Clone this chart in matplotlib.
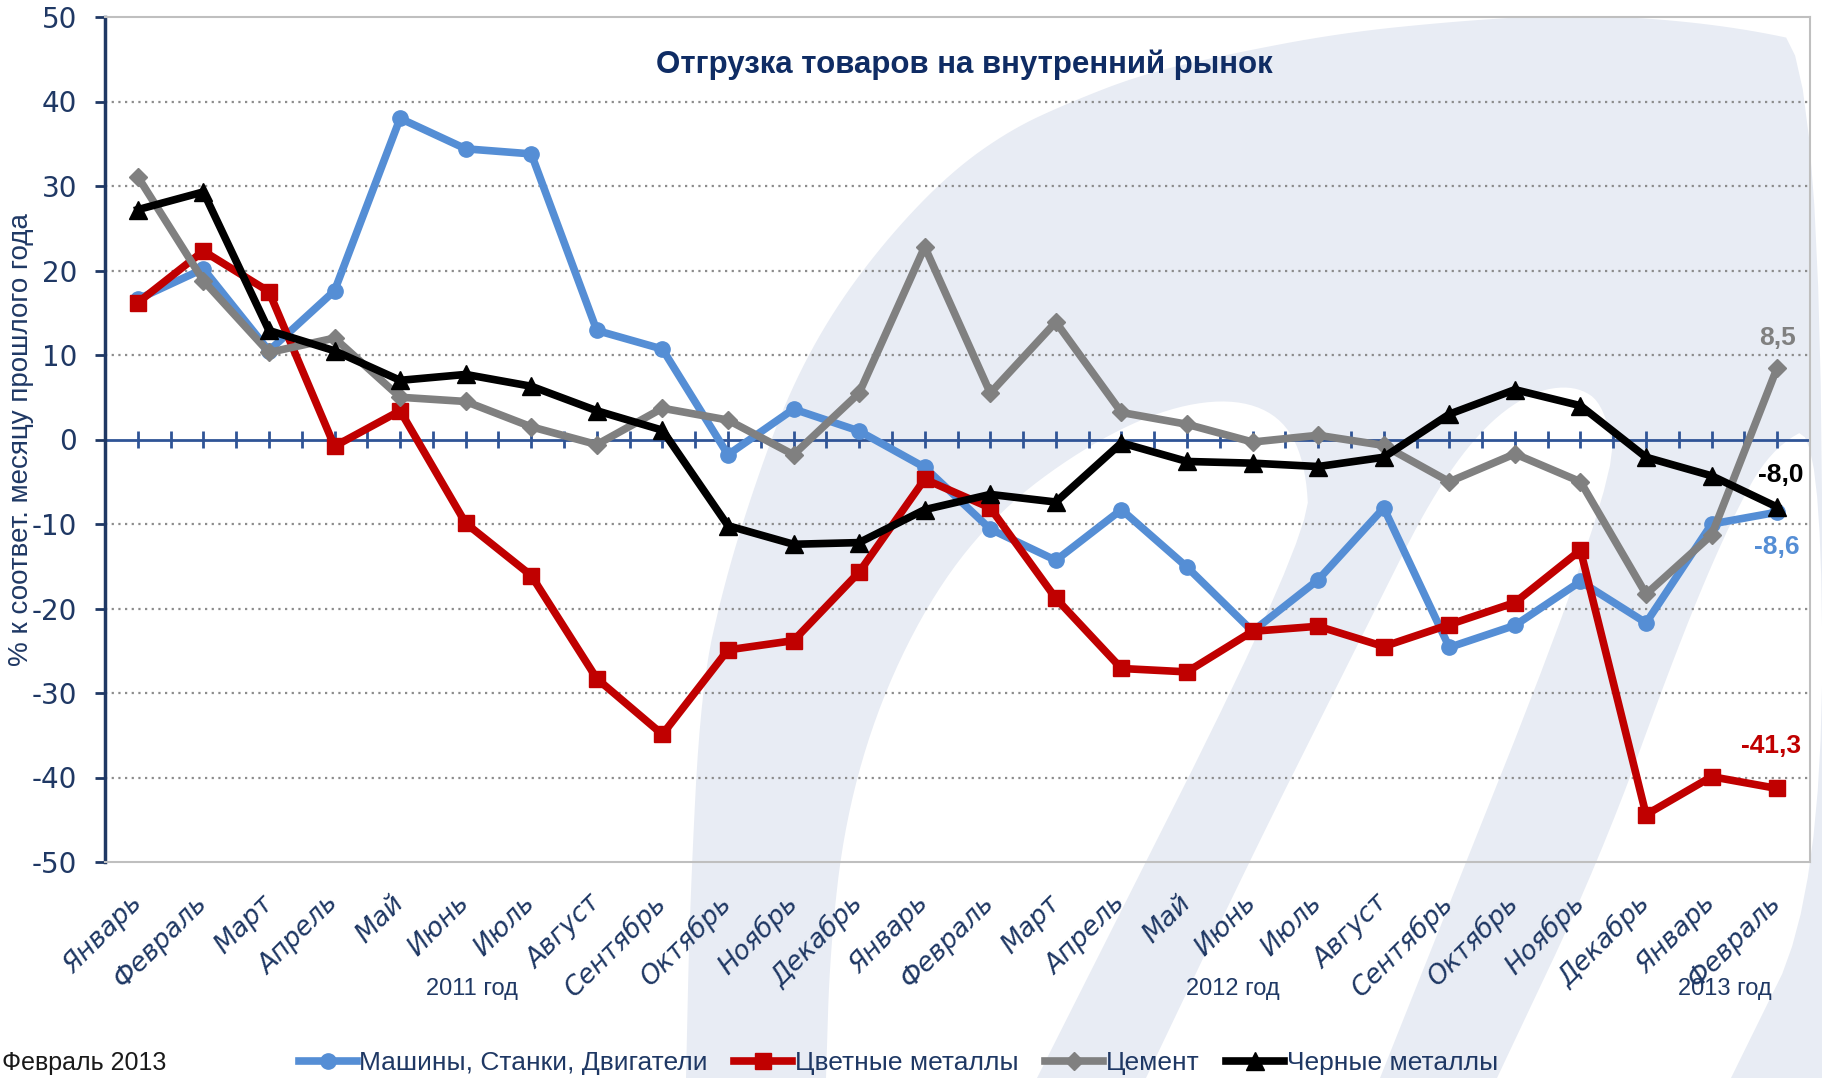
import matplotlib.pyplot as plt
import matplotlib.transforms as mtransforms
import numpy as np

months = ['Январь', 'Февраль', 'Март', 'Апрель', 'Май', 'Июнь', 'Июль',
          'Август', 'Сентябрь', 'Октябрь', 'Ноябрь', 'Декабрь']
labels = months + months + months[:2]

machines = [16.6, 20.2, 10.5, 17.6, 38.0, 34.4, 33.8, 12.9, 10.7, -1.8, 3.6, 1.0,
            -3.3, -10.6, -14.3, -8.3, -15.1, -22.7, -16.6, -8.1, -24.6, -22.0, -16.8, -21.7,
            -10.0, -8.6]
nonferrous = [16.2, 22.3, 17.5, -0.8, 3.4, -9.9, -16.1, -28.3, -34.9, -24.9, -23.8, -15.7,
              -4.7, -8.1, -18.8, -27.1, -27.5, -22.7, -22.1, -24.5, -21.9, -19.3, -13.1, -44.4,
              -39.9, -41.3]
cement = [31.1, 18.8, 10.3, 12.0, 5.0, 4.5, 1.5, -0.6, 3.7, 2.3, -1.8, 5.5,
          22.8, 5.5, 13.9, 3.2, 1.8, -0.3, 0.5, -0.7, -5.0, -1.7, -5.0, -18.3,
          -11.3, 8.5]
ferrous = [27.2, 29.3, 12.9, 10.5, 7.0, 7.7, 6.3, 3.4, 1.1, -10.2, -12.4, -12.2,
           -8.3, -6.5, -7.4, -0.4, -2.6, -2.8, -3.2, -2.1, 3.0, 5.9, 4.0, -2.1,
           -4.3, -8.0]

years = ['2011 год', '2012 год', '2013 год']
year_pos = [5.1, 16.7, 24.2]

navy = '#1f3864'
sans = 'Liberation Sans'

W, H = 1822, 1078


def chaikin(pts, n=3):
    # smooth the corners of the logo outline a bit
    p = np.array(pts, dtype=float)
    for _ in range(n):
        q = 0.75 * p[:-1] + 0.25 * p[1:]
        r = 0.25 * p[:-1] + 0.75 * p[1:]
        p = np.vstack([p[:1], np.column_stack([q, r]).reshape(-1, 2), p[-1:]])
    return p


fig = plt.figure(figsize=(W / 100, H / 100), dpi=100)

# background logo (light arcs), drawn in pixel coordinates
bg = fig.add_axes([0, 0, 1, 1], zorder=-1)
bg.axis('off')
bg.set_xlim(0, W)
bg.set_ylim(H, 0)
light = '#e8ecf4'
outer = [(686, 1078), (690, 900), (701, 687), (725, 580), (756, 481), (790, 390),
         (834, 309), (890, 235), (951, 172), (1010, 130), (1068, 103), (1140, 75),
         (1224, 55), (1340, 33), (1458, 21), (1560, 15), (1650, 18), (1740, 28),
         (1822, 45), (1822, 1078)]
arch1 = [(826, 1078), (830, 950), (845, 820), (880, 700), (935, 590), (1000, 510),
         (1080, 450), (1160, 410), (1230, 398), (1280, 415), (1305, 460), (1310, 536),
         (1037, 1078)]
arch2 = [(1146, 1078), (1250, 860), (1330, 700), (1380, 600), (1430, 500), (1480, 430),
         (1530, 392), (1575, 385), (1605, 405), (1618, 481), (1380, 1078)]
arch3 = [(1497, 1078), (1600, 860), (1680, 640), (1731, 520), (1770, 450), (1822, 420),
         (1822, 893), (1731, 1078)]
bg.fill(*chaikin(outer).T, color=light, lw=0)
for a in (arch1, arch2, arch3):
    bg.fill(*chaikin(a).T, color='white', lw=0)

ax = fig.add_axes([105 / W, 1 - 862 / H, (1810 - 105) / W, (862 - 17) / H])
ax.patch.set_alpha(0)

x = np.arange(len(labels))
ax.plot(x, machines, color='#558ed5', lw=5.5, marker='o', ms=11,
        label='Машины, Станки, Двигатели', zorder=3)
ax.plot(x, nonferrous, color='#c00000', lw=5.5, marker='s', ms=12,
        label='Цветные металлы', zorder=4)
ax.plot(x, cement, color='#808080', lw=5.5, marker='D', ms=9,
        label='Цемент', zorder=5)
ax.plot(x, ferrous, color='black', lw=5.5, marker='^', ms=13,
        label='Черные металлы', zorder=6)

ax.set_xlim(-0.5, len(labels) - 0.5)
ax.set_ylim(-50, 50)

for v in range(-40, 41, 10):
    if v != 0:
        ax.axhline(v, color='#8c8c8c', lw=1.6, ls=(0, (1, 2)), zorder=1)
ax.axhline(0, color='#2f5496', lw=2, zorder=2)
ax.vlines(np.arange(0, len(labels), 0.5), -1.0, 1.0, color='#2f5496', lw=2, zorder=2)

for s in ['top', 'right', 'bottom']:
    ax.spines[s].set_color('#bfbfbf')
    ax.spines[s].set_linewidth(1.5)
ax.spines['left'].set_color(navy)
ax.spines['left'].set_linewidth(2.5)

ax.set_yticks(range(-50, 51, 10))
ax.set_yticklabels([str(v) for v in range(-50, 51, 10)], fontsize=20, color=navy)
ax.tick_params(axis='y', length=7, width=2, color=navy, pad=13)

ax.set_xticks(x)
ax.set_xticklabels(labels, rotation=45, ha='right', va='center',
                   rotation_mode='anchor', fontsize=19, style='italic', color=navy)
ax.tick_params(axis='x', length=0, pad=27)

trans = mtransforms.blended_transform_factory(ax.transData, ax.transAxes)
for yl, xp in zip(years, year_pos):
    ax.text(xp, -0.150, yl, transform=trans, ha='center', va='center',
            fontsize=17, color=navy, family=sans)

# last-point labels
ax.text(25, 12.0, '8,5', color='#808080', fontsize=19, fontweight='bold',
        ha='center', va='center', family=sans)
ax.text(25.05, -4.2, '-8,0', color='black', fontsize=19, fontweight='bold',
        ha='center', va='center', family=sans)
ax.text(25, -12.7, '-8,6', color='#558ed5', fontsize=19, fontweight='bold',
        ha='center', va='center', family=sans)
ax.text(24.9, -36.3, '-41,3', color='#c00000', fontsize=19, fontweight='bold',
        ha='center', va='center', family=sans)

fig.text(964 / W, 1 - 65 / H, 'Отгрузка товаров на внутренний рынок',
         ha='center', va='center', fontsize=22.5, fontweight='bold',
         color='#0f2c64', family=sans)
fig.text(21 / W, 1 - 440 / H, '% к соответ. месяцу прошлого года', rotation=90,
         ha='center', va='center', fontsize=20, color=navy, family=sans)
fig.text(2 / W, 3 / H, 'Февраль 2013', ha='left', va='bottom',
         fontsize=18, color='#1a1a1a', family=sans)

fig.legend(loc='center', bbox_to_anchor=(0.493, 1 - 1063 / H), ncol=4, frameon=False,
           prop={'family': sans, 'size': 19}, labelcolor=navy,
           handlelength=2.2, handletextpad=0.1, columnspacing=1.0)

fig.savefig('out.png', dpi=100)
